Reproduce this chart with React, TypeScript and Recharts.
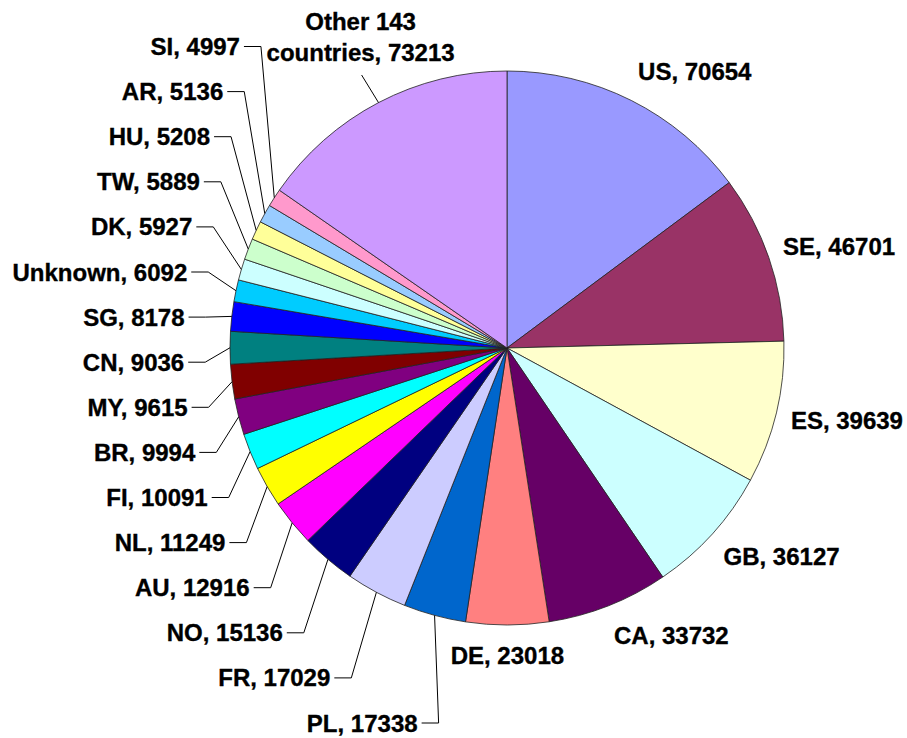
import React from 'react';
import { PieChart, Pie, Cell } from 'recharts';

// downloads by country, clockwise from 12 o'clock
const countries = [
  'US', 'SE', 'ES', 'GB', 'CA', 'DE', 'PL', 'FR', 'NO', 'AU', 'NL', 'FI',
  'BR', 'MY', 'CN', 'SG', 'Unknown', 'DK', 'TW', 'HU', 'AR', 'SI', 'Other 143 countries',
];
const downloads = [
  70654, 46701, 39639, 36127, 33732, 23018, 17338, 17029, 15136, 12916, 11249, 10091,
  9994, 9615, 9036, 8178, 6092, 5927, 5889, 5208, 5136, 4997, 73213,
];
const sliceColors = [
  '#9999FF', '#993366', '#FFFFCC', '#CCFFFF', '#660066', '#FF8080', '#0066CC', '#CCCCFF',
  '#000080', '#FF00FF', '#FFFF00', '#00FFFF', '#800080', '#800000', '#008080', '#0000FF',
  '#00CCFF', '#CCFFFF', '#CCFFCC', '#FFFF99', '#99CCFF', '#FF99CC', '#CC99FF',
];

const data = countries.map((name, i) => ({ name, value: downloads[i] }));

// the chart fills the whole window
if (typeof document !== 'undefined') document.body.style.margin = '0';

// mid angle of each slice, degrees clockwise from the top
const total = downloads.reduce((a, b) => a + b, 0);
let acc = 0;
const midDeg = downloads.map((v) => {
  const m = ((acc + v / 2) / total) * 360;
  acc += v;
  return m;
});
// small slices on the left get their labels stacked in a column
const stacked = midDeg.map((m, i) => (m > 182 && m < 320 ? i : -1)).filter((i) => i >= 0);

const labelFont: React.CSSProperties = {
  fontFamily: '"Liberation Sans", Arial, sans-serif',
  fontWeight: 700,
  fontSize: 24,
  fill: '#000',
  stroke: '#000',
  strokeWidth: 0.35,
};

const wrap = (text: string, max: number) => {
  const out: string[] = [];
  let cur = '';
  text.split(' ').forEach((w) => {
    const next = cur ? cur + ' ' + w : w;
    if (next.length > max && cur) {
      out.push(cur);
      cur = w;
    } else {
      cur = next;
    }
  });
  if (cur) out.push(cur);
  return out;
};

const renderLabel = (props: any) => {
  const { cx, cy, midAngle, outerRadius, index, name, value } = props;
  const rad = (-midAngle * Math.PI) / 180;
  const ux = Math.cos(rad);
  const uy = Math.sin(rad);
  const ex = cx + outerRadius * ux;
  const ey = cy + outerRadius * uy;
  const text = `${name}, ${value}`;

  const k = stacked.indexOf(index);
  if (k >= 0) {
    const ly = cy + 375 - k * 45.1;
    const dy = ly - cy;
    const b = dy > 0 ? 385 : 520;
    const bx = cx - 302 * Math.sqrt(Math.max(0, 1 - (dy / b) ** 2));
    return (
      <g>
        <polyline
          points={`${bx - 17},${ly} ${bx},${ly} ${ex},${ey}`}
          fill="none"
          stroke="#000"
          strokeWidth={1}
        />
        <text x={bx - 21} y={ly} textAnchor="end" dominantBaseline="central" style={labelFont}>
          {text}
        </text>
      </g>
    );
  }

  const lines = wrap(text, 16);
  if (lines.length > 1) {
    const px = cx + (outerRadius + 30) * ux;
    const py = cy + (outerRadius + 30) * uy;
    return (
      <g>
        <line x1={ex} y1={ey} x2={px - 3} y2={py - 1} stroke="#000" strokeWidth={1} />
        {lines.map((ln, j) => (
          <text
            key={j}
            x={px - 4}
            y={py - 24 - (lines.length - 1 - j) * 31}
            textAnchor="middle"
            dominantBaseline="central"
            style={labelFont}
          >
            {ln}
          </text>
        ))}
      </g>
    );
  }

  const px = cx + (outerRadius + 15) * ux;
  const py = cy + (outerRadius + 15) * uy;
  const anchor = ux > 0.2 ? 'start' : ux < -0.2 ? 'end' : 'middle';
  const yc = py + 16 * Math.max(-1, Math.min(1, uy * 1.2));
  return (
    <text x={px} y={yc} textAnchor={anchor} dominantBaseline="central" style={labelFont}>
      {text}
    </text>
  );
};

export default function App() {
  return (
    <div style={{ width: 907, height: 738, background: '#fff' }}>
      <PieChart width={907} height={738} margin={{ top: 0, right: 0, bottom: 0, left: 0 }}>
        <Pie
          data={data}
          dataKey="value"
          nameKey="name"
          cx={507}
          cy={348}
          outerRadius={277}
          startAngle={90}
          endAngle={-270}
          stroke="#222"
          strokeWidth={0.8}
          label={renderLabel}
          labelLine={false}
          isAnimationActive={false}
        >
          {data.map((d, i) => (
            <Cell key={d.name} fill={sliceColors[i]} />
          ))}
        </Pie>
      </PieChart>
    </div>
  );
}
